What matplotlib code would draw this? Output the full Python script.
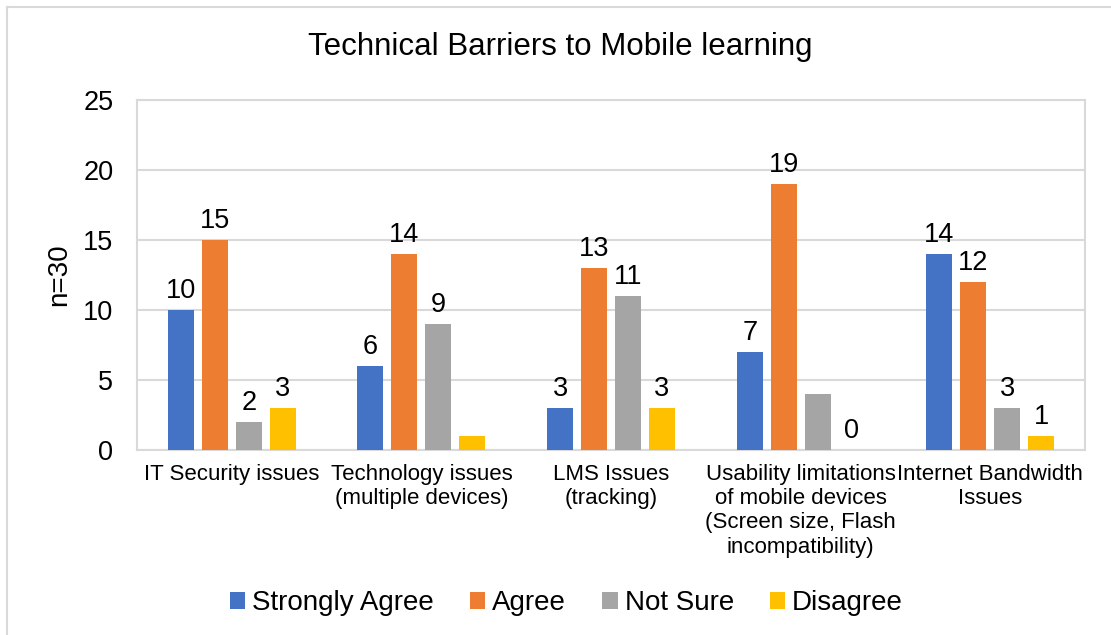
import numpy as np
import matplotlib
matplotlib.use("Agg")
import matplotlib.pyplot as plt
from matplotlib.lines import Line2D

plt.rcParams['font.family'] = ['Liberation Sans', 'DejaVu Sans']

categories = ['IT Security issues',
              'Technology issues\n(multiple devices)',
              'LMS Issues\n(tracking)',
              'Usability limitations\nof mobile devices\n(Screen size, Flash\nincompatibility)',
              'Internet Bandwidth\nIssues']
series_names = ['Strongly Agree', 'Agree', 'Not Sure', 'Disagree']
strongly_agree = [10, 6, 3, 7, 14]
agree = [15, 14, 13, 19, 12]
not_sure = [2, 9, 11, 4, 3]
disagree = [3, 1, 3, 0, 1]
colors = ['#4472C4', '#ED7D31', '#A5A5A5', '#FFC000']
# the original chart has no label on these bars (series, category)
hidden_labels = [(3, 1), (2, 3)]

values = [strongly_agree, agree, not_sure, disagree]
grid_color = '#d9d9d9'

fig = plt.figure(figsize=(11.11, 6.35), dpi=100)
ax = fig.add_axes([0.1233, 0.2913, 0.8533, 0.5512])

x = np.arange(len(categories))
pitch = 0.179
width = 0.137
for i, (name, vals) in enumerate(zip(series_names, values)):
    pos = x + (i - 1.5) * pitch
    bars = ax.bar(pos, vals, width, color=colors[i], label=name, zorder=3)
    for j, (b, v) in enumerate(zip(bars, vals)):
        if (i, j) in hidden_labels:
            continue
        ax.annotate(str(v), (b.get_x() + b.get_width() / 2, v),
                    xytext=(0, 4), textcoords='offset points',
                    ha='center', va='bottom', fontsize=19.5)

ax.set_xlim(-0.5, len(categories) - 0.5)
ax.set_ylim(0, 25)
ax.set_yticks([0, 5, 10, 15, 20, 25])
ax.set_xticks(x)
ax.set_xticklabels(categories, fontsize=16, linespacing=1.2)
ax.tick_params(axis='y', length=0, labelsize=19.5, pad=17)
ax.tick_params(axis='x', length=0, pad=10)
ax.grid(axis='y', color=grid_color, linewidth=1.5, zorder=0)
for s in ax.spines.values():
    s.set_color(grid_color)
    s.set_linewidth(1.5)
ax.set_ylabel('n=30', fontsize=20, labelpad=8)

fig.text(0.504, 0.926, 'Technical Barriers to Mobile learning', fontsize=22.5,
         ha='center', va='center')

fig.legend(loc='center', bbox_to_anchor=(0.51, 0.05), ncol=4, frameon=False,
           fontsize=20, handlelength=0.55, handleheight=0.55, handletextpad=0.25,
           columnspacing=1.3)

# outer chart border (top and left edges only are visible)
x0 = 7 / 1111
y0 = 1 - 7 / 635
fig.add_artist(Line2D([x0, x0], [0, y0], transform=fig.transFigure, color=grid_color, linewidth=1.5))
fig.add_artist(Line2D([x0, 1], [y0, y0], transform=fig.transFigure, color=grid_color, linewidth=1.5))

fig.savefig('out.png', dpi=100)
